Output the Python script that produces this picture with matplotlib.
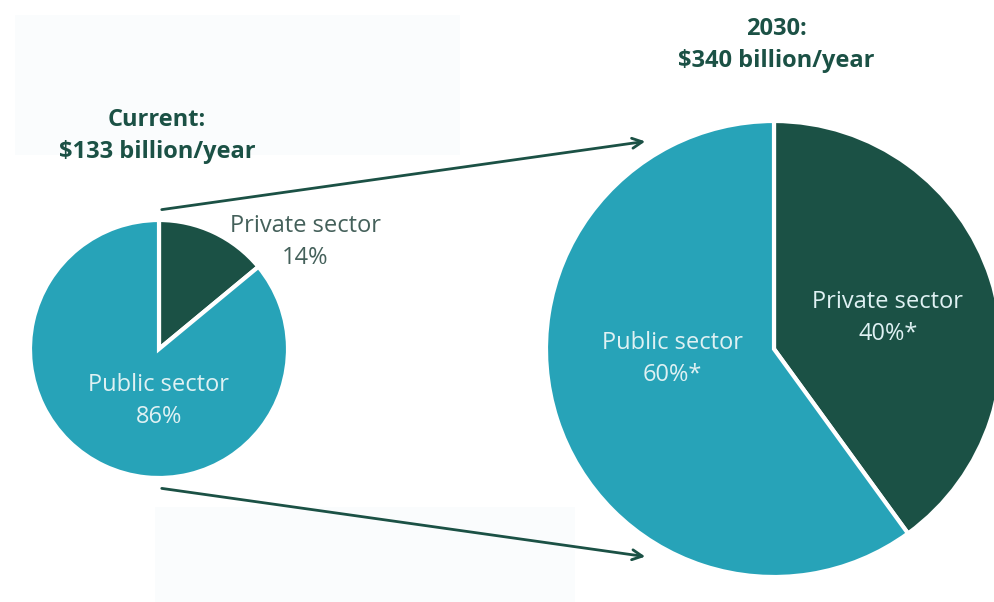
import matplotlib.pyplot as plt
from matplotlib.patches import Rectangle

plt.rcParams['font.family'] = ['Open Sans', 'DejaVu Sans']

# shares of financing (private, public)
labels = ["Private sector", "Public sector"]
current_share = [14, 86]
future_share = [40, 60]
current_total = "$133 billion/year"
future_total = "$340 billion/year"
current_pct = ["14%", "86%"]
future_pct = ["40%*", "60%*"]

dark_green = "#1b5145"
teal = "#27a3b8"
light_text = "#dff1f3"

W, H = 994, 602
fig = plt.figure(figsize=(W / 100, H / 100), dpi=100)
ax = fig.add_axes([0, 0, 1, 1])

def y(py):
    # pixel row (from top) -> data y
    return H - py

# faint screenshot background patches
ax.add_patch(Rectangle((15, y(155)), 445, 140, color="#fafcfd", zorder=0, lw=0))
ax.add_patch(Rectangle((155, y(602)), 420, 95, color="#fafcfd", zorder=0, lw=0))

wp = dict(edgecolor="white", linewidth=3)
ax.pie(current_share, colors=[dark_green, teal], startangle=90, counterclock=False,
       center=(159, y(349)), radius=129, wedgeprops=wp)
ax.pie(future_share, colors=[dark_green, teal], startangle=90, counterclock=False,
       center=(774, y(349)), radius=228, wedgeprops=wp)

ax.set_xlim(0, W)
ax.set_ylim(0, H)
ax.set_aspect("auto")
ax.axis("off")

# titles
ax.text(157, y(136), "Current:\n" + current_total, ha="center", va="center",
        fontsize=17, fontweight="bold", color=dark_green, linespacing=1.45)
ax.text(776, y(45), "2030:\n" + future_total, ha="center", va="center",
        fontsize=17, fontweight="bold", color=dark_green, linespacing=1.45)

# slice labels
ax.text(305, y(242), labels[0] + "\n" + current_pct[0], ha="center", va="center",
        fontsize=17, color="#44605a", linespacing=1.4)
ax.text(159, y(401), labels[1] + "\n" + current_pct[1], ha="center", va="center",
        fontsize=17, color=light_text, linespacing=1.4)
ax.text(888, y(318), labels[0] + "\n" + future_pct[0], ha="center", va="center",
        fontsize=17, color=light_text, linespacing=1.4)
ax.text(672, y(359), labels[1] + "\n" + future_pct[1], ha="center", va="center",
        fontsize=17, color=light_text, linespacing=1.4)

# zoom arrows
arrow = dict(arrowstyle="->", color=dark_green, lw=2, mutation_scale=18)
ax.annotate("", xy=(648, y(141)), xytext=(159, y(210)), arrowprops=arrow)
ax.annotate("", xy=(648, y(557)), xytext=(159, y(488)), arrowprops=arrow)

fig.savefig("out.png", dpi=100)
